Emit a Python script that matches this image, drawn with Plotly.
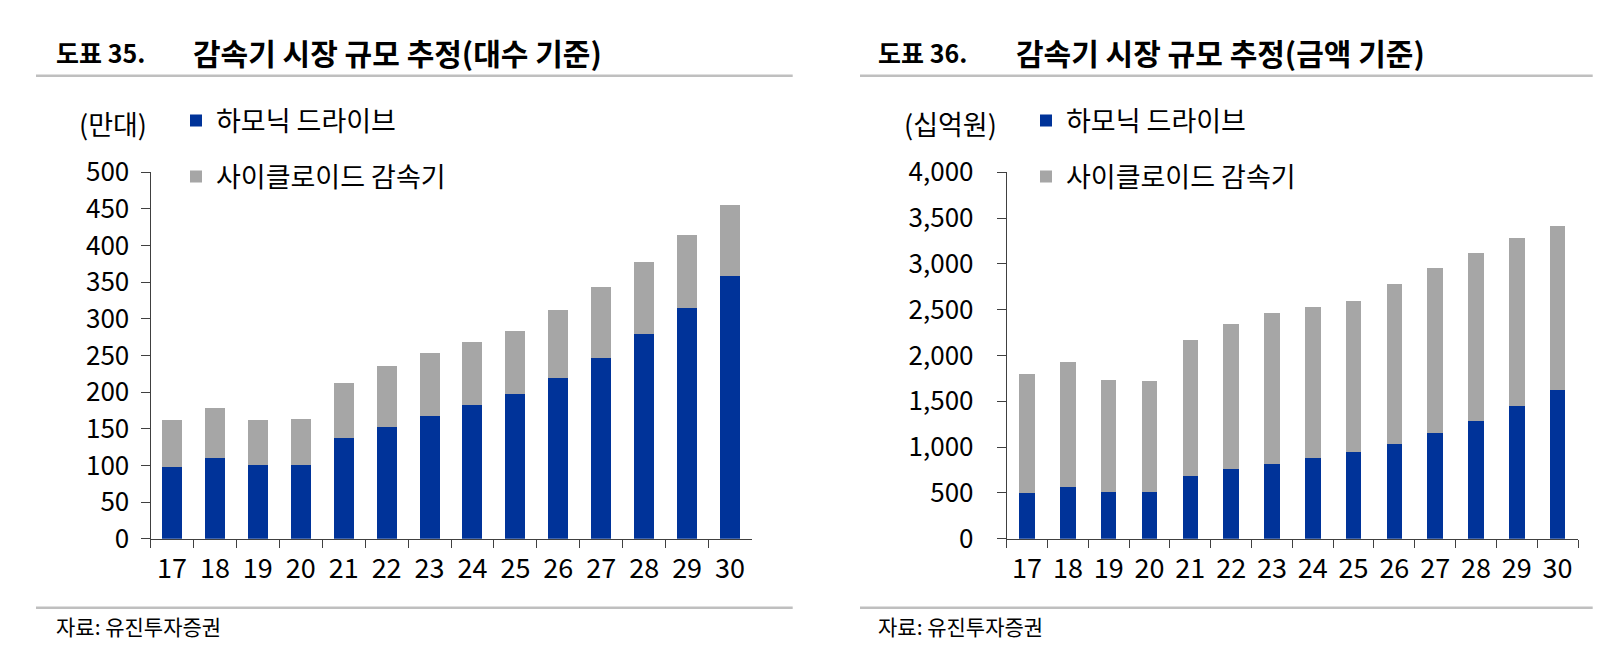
import plotly.graph_objects as go

W, H = 1623, 661

years = ["17", "18", "19", "20", "21", "22", "23", "24", "25", "26", "27", "28", "29", "30"]

# 도표 35: 대수 기준 (만대)
units_harmonic = [98, 110, 100, 101, 138, 153, 168, 183, 197, 219, 247, 279, 315, 358]
units_total = [162, 178, 162, 163, 213, 235, 253, 269, 284, 312, 343, 377, 415, 456]
units_cycloid = [t - h for t, h in zip(units_total, units_harmonic)]

# 도표 36: 금액 기준 (십억원)
value_harmonic = [500, 561, 506, 506, 684, 757, 819, 881, 943, 1037, 1154, 1289, 1449, 1624]
value_total = [1800, 1925, 1730, 1719, 2164, 2339, 2463, 2532, 2594, 2783, 2954, 3118, 3279, 3413]
value_cycloid = [t - h for t, h in zip(value_total, value_harmonic)]

series_names = ["하모닉 드라이브", "사이클로이드 감속기"]
left_title = "감속기 시장 규모 추정(대수 기준)"
right_title = "감속기 시장 규모 추정(금액 기준)"
left_label = "도표 35."
right_label = "도표 36."
left_unit = "(만대)"
right_unit = "(십억원)"
source_text = "자료: 유진투자증권"

BLUE = "#003399"
GREY = "#A6A6A6"
FONT = "Noto Sans CJK KR"
AX = "#404040"


def px(x):
    return x / W


def py(y):
    return (H - y) / H


fig = go.Figure()

fig.add_trace(go.Bar(x=years, y=units_harmonic, name=series_names[0], marker_color=BLUE,
                     marker_line_width=0, xaxis="x", yaxis="y", legend="legend", width=0.465))
fig.add_trace(go.Bar(x=years, y=units_cycloid, name=series_names[1], marker_color=GREY,
                     marker_line_width=0, xaxis="x", yaxis="y", legend="legend2", width=0.465))
fig.add_trace(go.Bar(x=years, y=value_harmonic, name=series_names[0], marker_color=BLUE,
                     marker_line_width=0, xaxis="x2", yaxis="y2", legend="legend3", width=0.38))
fig.add_trace(go.Bar(x=years, y=value_cycloid, name=series_names[1], marker_color=GREY,
                     marker_line_width=0, xaxis="x2", yaxis="y2", legend="legend4", width=0.38))

y_dom = [py(538.7), py(172.3)]
xtickfont = dict(family=FONT, size=27, color="#000000")
ytickfont = dict(family=FONT, size=26, color="#000000")

common_x = dict(type="category", showline=True, linecolor=AX, linewidth=1, ticks="outside",
                tickson="boundaries", ticklen=8, tickcolor=AX, tickwidth=1, showgrid=False,
                tickfont=xtickfont, zeroline=False, fixedrange=True, automargin=False,
                ticklabelstandoff=6)
common_y = dict(showline=True, linecolor=AX, linewidth=1, ticks="outside", ticklen=9,
                tickcolor=AX, tickwidth=1, showgrid=False, zeroline=False, tickfont=ytickfont,
                fixedrange=True, automargin=False)

legend_font = dict(family=FONT, size=27, color="#000000")


def leg(x, y):
    return dict(x=px(x), y=py(y), xanchor="left", yanchor="middle", font=legend_font,
                bgcolor="rgba(0,0,0,0)", borderwidth=0, itemwidth=30,
                itemclick=False, itemdoubleclick=False)


fig.update_layout(
    width=W, height=H, margin=dict(l=0, r=0, t=0, b=0, pad=0, autoexpand=False),
    paper_bgcolor="white", plot_bgcolor="white",
    barmode="stack", showlegend=True,
    font=dict(family=FONT, color="#000000"),
    xaxis=dict(domain=[px(150.5), px(751.5)], anchor="y", **common_x),
    yaxis=dict(domain=y_dom, anchor="x", range=[0, 500], dtick=50, ticklabelstandoff=6, **common_y),
    xaxis2=dict(domain=[px(1006.7), px(1578)], anchor="y2", **common_x),
    yaxis2=dict(domain=y_dom, anchor="x2", range=[0, 4000], dtick=500, tickformat=",d",
                ticklabelstandoff=18, **common_y),
    legend=leg(176, 121),
    legend2=leg(176, 177),
    legend3=leg(1026, 121),
    legend4=leg(1026, 177),
)

annotations = [
    dict(text=left_label, x=px(54), y=py(52), xanchor="left", yanchor="middle",
         font=dict(family=FONT, size=25, color="#000000", weight="bold")),
    dict(text=left_title, x=px(191), y=py(52), xanchor="left", yanchor="middle",
         font=dict(family=FONT, size=30, color="#000000", weight="bold")),
    dict(text=right_label, x=px(876), y=py(52), xanchor="left", yanchor="middle",
         font=dict(family=FONT, size=25, color="#000000", weight="bold")),
    dict(text=right_title, x=px(1014), y=py(52), xanchor="left", yanchor="middle",
         font=dict(family=FONT, size=30, color="#000000", weight="bold")),
    dict(text=left_unit, x=px(113), y=py(123), xanchor="center", yanchor="middle",
         font=dict(family=FONT, size=27, color="#000000")),
    dict(text=right_unit, x=px(950), y=py(123), xanchor="center", yanchor="middle",
         font=dict(family=FONT, size=27, color="#000000")),
    dict(text=source_text, x=px(54), y=py(626), xanchor="left", yanchor="middle",
         font=dict(family=FONT, size=21, color="#000000")),
    dict(text=source_text, x=px(876), y=py(626), xanchor="left", yanchor="middle",
         font=dict(family=FONT, size=21, color="#000000")),
]
for a in annotations:
    a.update(xref="paper", yref="paper", showarrow=False)
fig.update_layout(annotations=annotations)

line_style = dict(color="#BFBFBF", width=2.5)
shapes = [
    dict(type="line", x0=px(36), x1=px(792.7), y0=py(75.7), y1=py(75.7), line=line_style),
    dict(type="line", x0=px(860), x1=px(1592.7), y0=py(75.7), y1=py(75.7), line=line_style),
    dict(type="line", x0=px(36), x1=px(792.7), y0=py(607.7), y1=py(607.7), line=line_style),
    dict(type="line", x0=px(860), x1=px(1592.7), y0=py(607.7), y1=py(607.7), line=line_style),
]
for s in shapes:
    s.update(xref="paper", yref="paper")
fig.update_layout(shapes=shapes)

fig.write_html("out.html")
